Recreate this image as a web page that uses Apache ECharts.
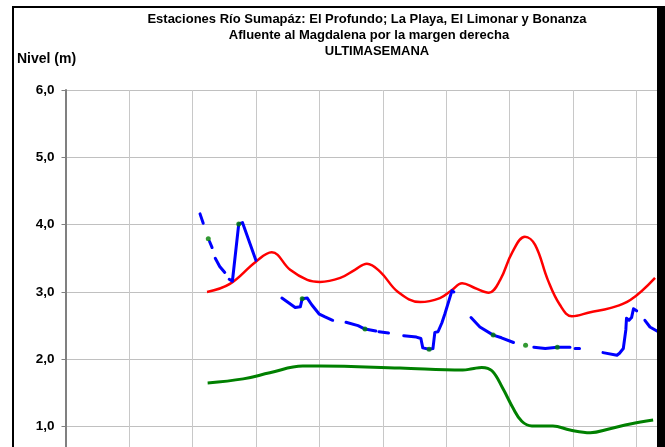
<!DOCTYPE html>
<html>
<head>
<meta charset="utf-8">
<script src="https://cdn.jsdelivr.net/npm/echarts@6/dist/echarts.min.js"></script>
<style>
html,body{margin:0;padding:0;background:#fff;overflow:hidden;width:665px;height:447px;}
#c{width:720px;height:520px;}
</style>
</head>
<body>
<div id="c"></div>
<script>
// Title lines
const titleLines = [
  "Estaciones Río Sumapáz: El Profundo; La Playa, El Limonar y Bonanza",
  "Afluente al Magdalena por la margen derecha",
  "ULTIMASEMANA"
];
const yAxisName = "Nivel (m)";

// Red series (x in days from chart start, y = level m)
const redX = [2.23,2.59,3.00,3.25,3.54,3.81,4.01,4.33,4.56,4.75,4.96,5.24,5.59,5.90,6.09,6.25,6.45,6.67,6.85,7.04,7.24,7.40,7.60,7.79,7.98,8.27,8.58,8.90,9.29];
const redY = [3.00,3.12,3.45,3.59,3.33,3.18,3.15,3.21,3.33,3.42,3.30,3.00,2.85,2.91,3.03,3.13,3.06,2.99,3.18,3.59,3.82,3.70,3.18,2.81,2.64,2.70,2.76,2.88,3.21];

// Green series
const greenX = [2.24,2.80,3.22,3.74,4.01,5.27,6.26,6.41,6.56,6.72,6.89,7.05,7.19,7.35,7.68,7.95,8.27,8.58,8.90,9.26];
const greenY = [1.65,1.71,1.80,1.90,1.90,1.87,1.84,1.86,1.88,1.83,1.57,1.28,1.08,1.01,1.01,0.95,0.91,0.97,1.04,1.10];

// Blue series (null = missing data)
const blueX = [2.12,2.17,2.20, 2.27,2.31,2.34, 2.36,2.43,2.51,2.55, 2.58,2.63,2.73,2.79,3.00,3.20,
  3.41,3.62,3.70,3.73,3.81,3.88,4.00,4.09,4.21,4.30,
  4.42,4.61,4.72,4.89,4.92, 4.94,5.09,5.20,
  5.33,5.53,5.60,5.63,5.73,5.79,5.82,5.87,5.93,5.98,6.09,6.12,6.25,
  6.39,6.53,6.74,6.87,7.06,7.20,
  7.38,7.56,7.75,7.95,8.00, 8.03,8.10,8.30,
  8.47,8.69,8.73,8.79,8.83,8.84,8.88,8.92,8.95,9.00,9.06,
  9.13,9.21,9.34];
const blueY = [4.16,4.02,null, 3.75,3.66,null, 3.50,3.38,3.29,null, 3.19,3.16,4.01,4.03,3.47,null,
  2.91,2.77,2.78,2.90,2.91,2.81,2.67,2.63,2.58,null,
  2.55,2.50,2.45,2.42,null, 2.41,2.39,null,
  2.35,2.33,2.31,2.17,2.15,2.16,2.40,2.41,2.54,2.68,3.02,3.00,null,
  2.62,2.48,2.36,2.32,2.25,null,
  2.18,2.16,2.18,2.18,null, 2.16,2.16,null,
  2.10,2.06,2.09,2.16,2.44,2.61,2.58,2.62,2.75,2.72,null,
  2.58,2.48,2.41];

// Green point readings
const dotX = [2.25,2.73,3.73,4.72,5.73,6.74,7.25,7.75];
const dotY = [3.79,4.01,2.90,2.45,2.15,2.36,2.21,2.18];

const zip = (xs, ys) => xs.map((x, i) => [x, ys[i]]);

const chart = echarts.init(document.getElementById('c'), null, {renderer: 'canvas'});
const font = '"Liberation Sans", Arial, sans-serif';

chart.setOption({
  animation: false,
  backgroundColor: '#ffffff',
  grid: {left: 65.5, top: 90, width: 634.6, height: 404, containLabel: false},
  xAxis: {
    type: 'value', min: 0, max: 10, interval: 1,
    axisLine: {show: false}, axisTick: {show: false}, axisLabel: {show: false},
    splitLine: {show: true, lineStyle: {color: '#c8c8c8', width: 1}}
  },
  yAxis: {
    type: 'value', min: 0, max: 6, interval: 1,
    axisLine: {show: true, lineStyle: {color: '#808080', width: 2}},
    axisTick: {show: true, length: 4, lineStyle: {color: '#808080'}},
    axisLabel: {
      margin: 11, color: '#000', fontWeight: 'bold', fontSize: 13.5, fontFamily: font,
      formatter: v => v.toFixed(1).replace('.', ',')
    },
    splitLine: {show: true, lineStyle: {color: '#c0c0c0', width: 1}}
  },
  series: [
    {type: 'line', data: zip(greenX, greenY), smooth: 0.4, symbol: 'none',
     lineStyle: {color: '#008000', width: 3}, z: 2},
    {type: 'line', data: zip(redX, redY), smooth: 0.4, symbol: 'none',
     lineStyle: {color: '#ff0000', width: 2.5}, z: 3},
    {type: 'line', data: zip(blueX, blueY), smooth: false, symbol: 'none', connectNulls: false,
     lineStyle: {color: '#0000ff', width: 3, join: 'round', cap: 'round'}, z: 4},
    {type: 'scatter', data: zip(dotX, dotY), symbol: 'circle', symbolSize: 5,
     itemStyle: {color: '#008000'}, z: 5}
  ],
  graphic: [
    {type: 'text', x: 367, y: 13, style: {text: titleLines[0], textAlign: 'center', font: 'bold 13px ' + font, fill: '#000'}},
    {type: 'text', x: 369, y: 29, style: {text: titleLines[1], textAlign: 'center', font: 'bold 13px ' + font, fill: '#000'}},
    {type: 'text', x: 377, y: 45, style: {text: titleLines[2], textAlign: 'center', font: 'bold 13px ' + font, fill: '#000'}},
    {type: 'text', x: 17, y: 52, style: {text: yAxisName, font: 'bold 14px ' + font, fill: '#000'}},
    {type: 'rect', shape: {x: 12, y: 6, width: 648, height: 2}, style: {fill: '#000'}, z: 100},
    {type: 'rect', shape: {x: 12, y: 6, width: 2, height: 520}, style: {fill: '#000'}, z: 100},
    {type: 'rect', shape: {x: 657, y: 6, width: 70, height: 520}, style: {fill: '#000'}, z: 100}
  ]
});
</script>
</body>
</html>
